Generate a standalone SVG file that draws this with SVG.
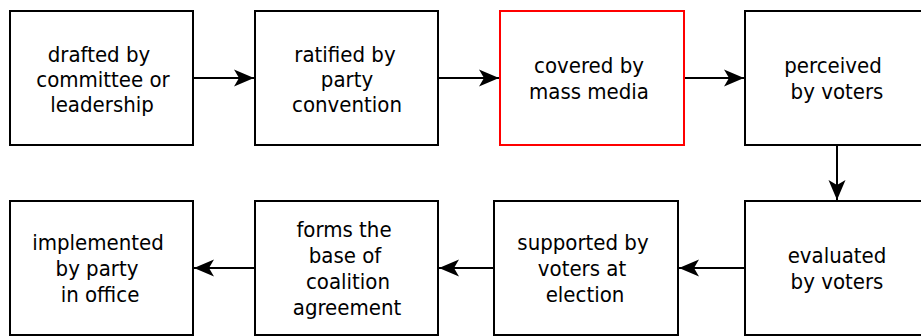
<svg xmlns="http://www.w3.org/2000/svg" width="921" height="336" viewBox="0 0 921 336">
<style>
.box{fill:#fff;stroke:#000;stroke-width:2}
.red{stroke:#ff0000}
.t{font-family:"DejaVu Sans Condensed","DejaVu Sans",sans-serif;font-stretch:condensed;font-size:22px;fill:#000;text-anchor:middle}
.c{fill:none;stroke:#000;stroke-width:2}
</style>
<defs>
<marker id="ah" markerUnits="userSpaceOnUse" markerWidth="24" markerHeight="22" refX="22" refY="11" orient="auto" viewBox="0 0 24 22">
<path d="M22,11 L2,2.5 L7,11 L2,19.5 Z" fill="#000"/>
</marker>
</defs>
<g id="connectors">
<path class="c" d="M193,78 L254,78" marker-end="url(#ah)"/>
<path class="c" d="M438,78 L499,78" marker-end="url(#ah)"/>
<path class="c" d="M684,78 L744,78" marker-end="url(#ah)"/>
<path class="c" d="M837,145 L837,200" marker-end="url(#ah)"/>
<path class="c" d="M745,268 L679,268" marker-end="url(#ah)"/>
<path class="c" d="M494,268 L439,268" marker-end="url(#ah)"/>
<path class="c" d="M255,268 L194,268" marker-end="url(#ah)"/>
</g>
<g id="n1">
<rect class="box" x="10" y="11" width="183" height="134"/>
<text class="t"><tspan x="99" y="62">drafted by</tspan><tspan x="103" y="87">committee or</tspan><tspan x="102" y="112">leadership</tspan></text>
</g>
<g id="n2">
<rect class="box" x="255" y="11" width="183" height="134"/>
<text class="t"><tspan x="345" y="62">ratified by</tspan><tspan x="347" y="87">party</tspan><tspan x="347" y="112">convention</tspan></text>
</g>
<g id="n3">
<rect class="box red" x="500" y="11" width="184" height="134"/>
<text class="t"><tspan x="589" y="73">covered by</tspan><tspan x="589" y="99">mass media</tspan></text>
</g>
<g id="n4">
<rect class="box" x="745" y="11" width="184" height="134"/>
<text class="t"><tspan x="833" y="73">perceived</tspan><tspan x="837" y="99">by voters</tspan></text>
</g>
<g id="n5">
<rect class="box" x="745" y="201" width="184" height="134"/>
<text class="t"><tspan x="837" y="263">evaluated</tspan><tspan x="837" y="289">by voters</tspan></text>
</g>
<g id="n6">
<rect class="box" x="494" y="201" width="184" height="134"/>
<text class="t"><tspan x="583" y="250">supported by</tspan><tspan x="582" y="276">voters at</tspan><tspan x="585" y="302">election</tspan></text>
</g>
<g id="n7">
<rect class="box" x="255" y="201" width="183" height="134"/>
<text class="t"><tspan x="344" y="237">forms the</tspan><tspan x="345" y="263">base of</tspan><tspan x="348" y="289">coalition</tspan><tspan x="347" y="315">agreement</tspan></text>
</g>
<g id="n8">
<rect class="box" x="10" y="201" width="183" height="134"/>
<text class="t"><tspan x="98" y="250">implemented</tspan><tspan x="97" y="276">by party</tspan><tspan x="100" y="302">in office</tspan></text>
</g>
</svg>
